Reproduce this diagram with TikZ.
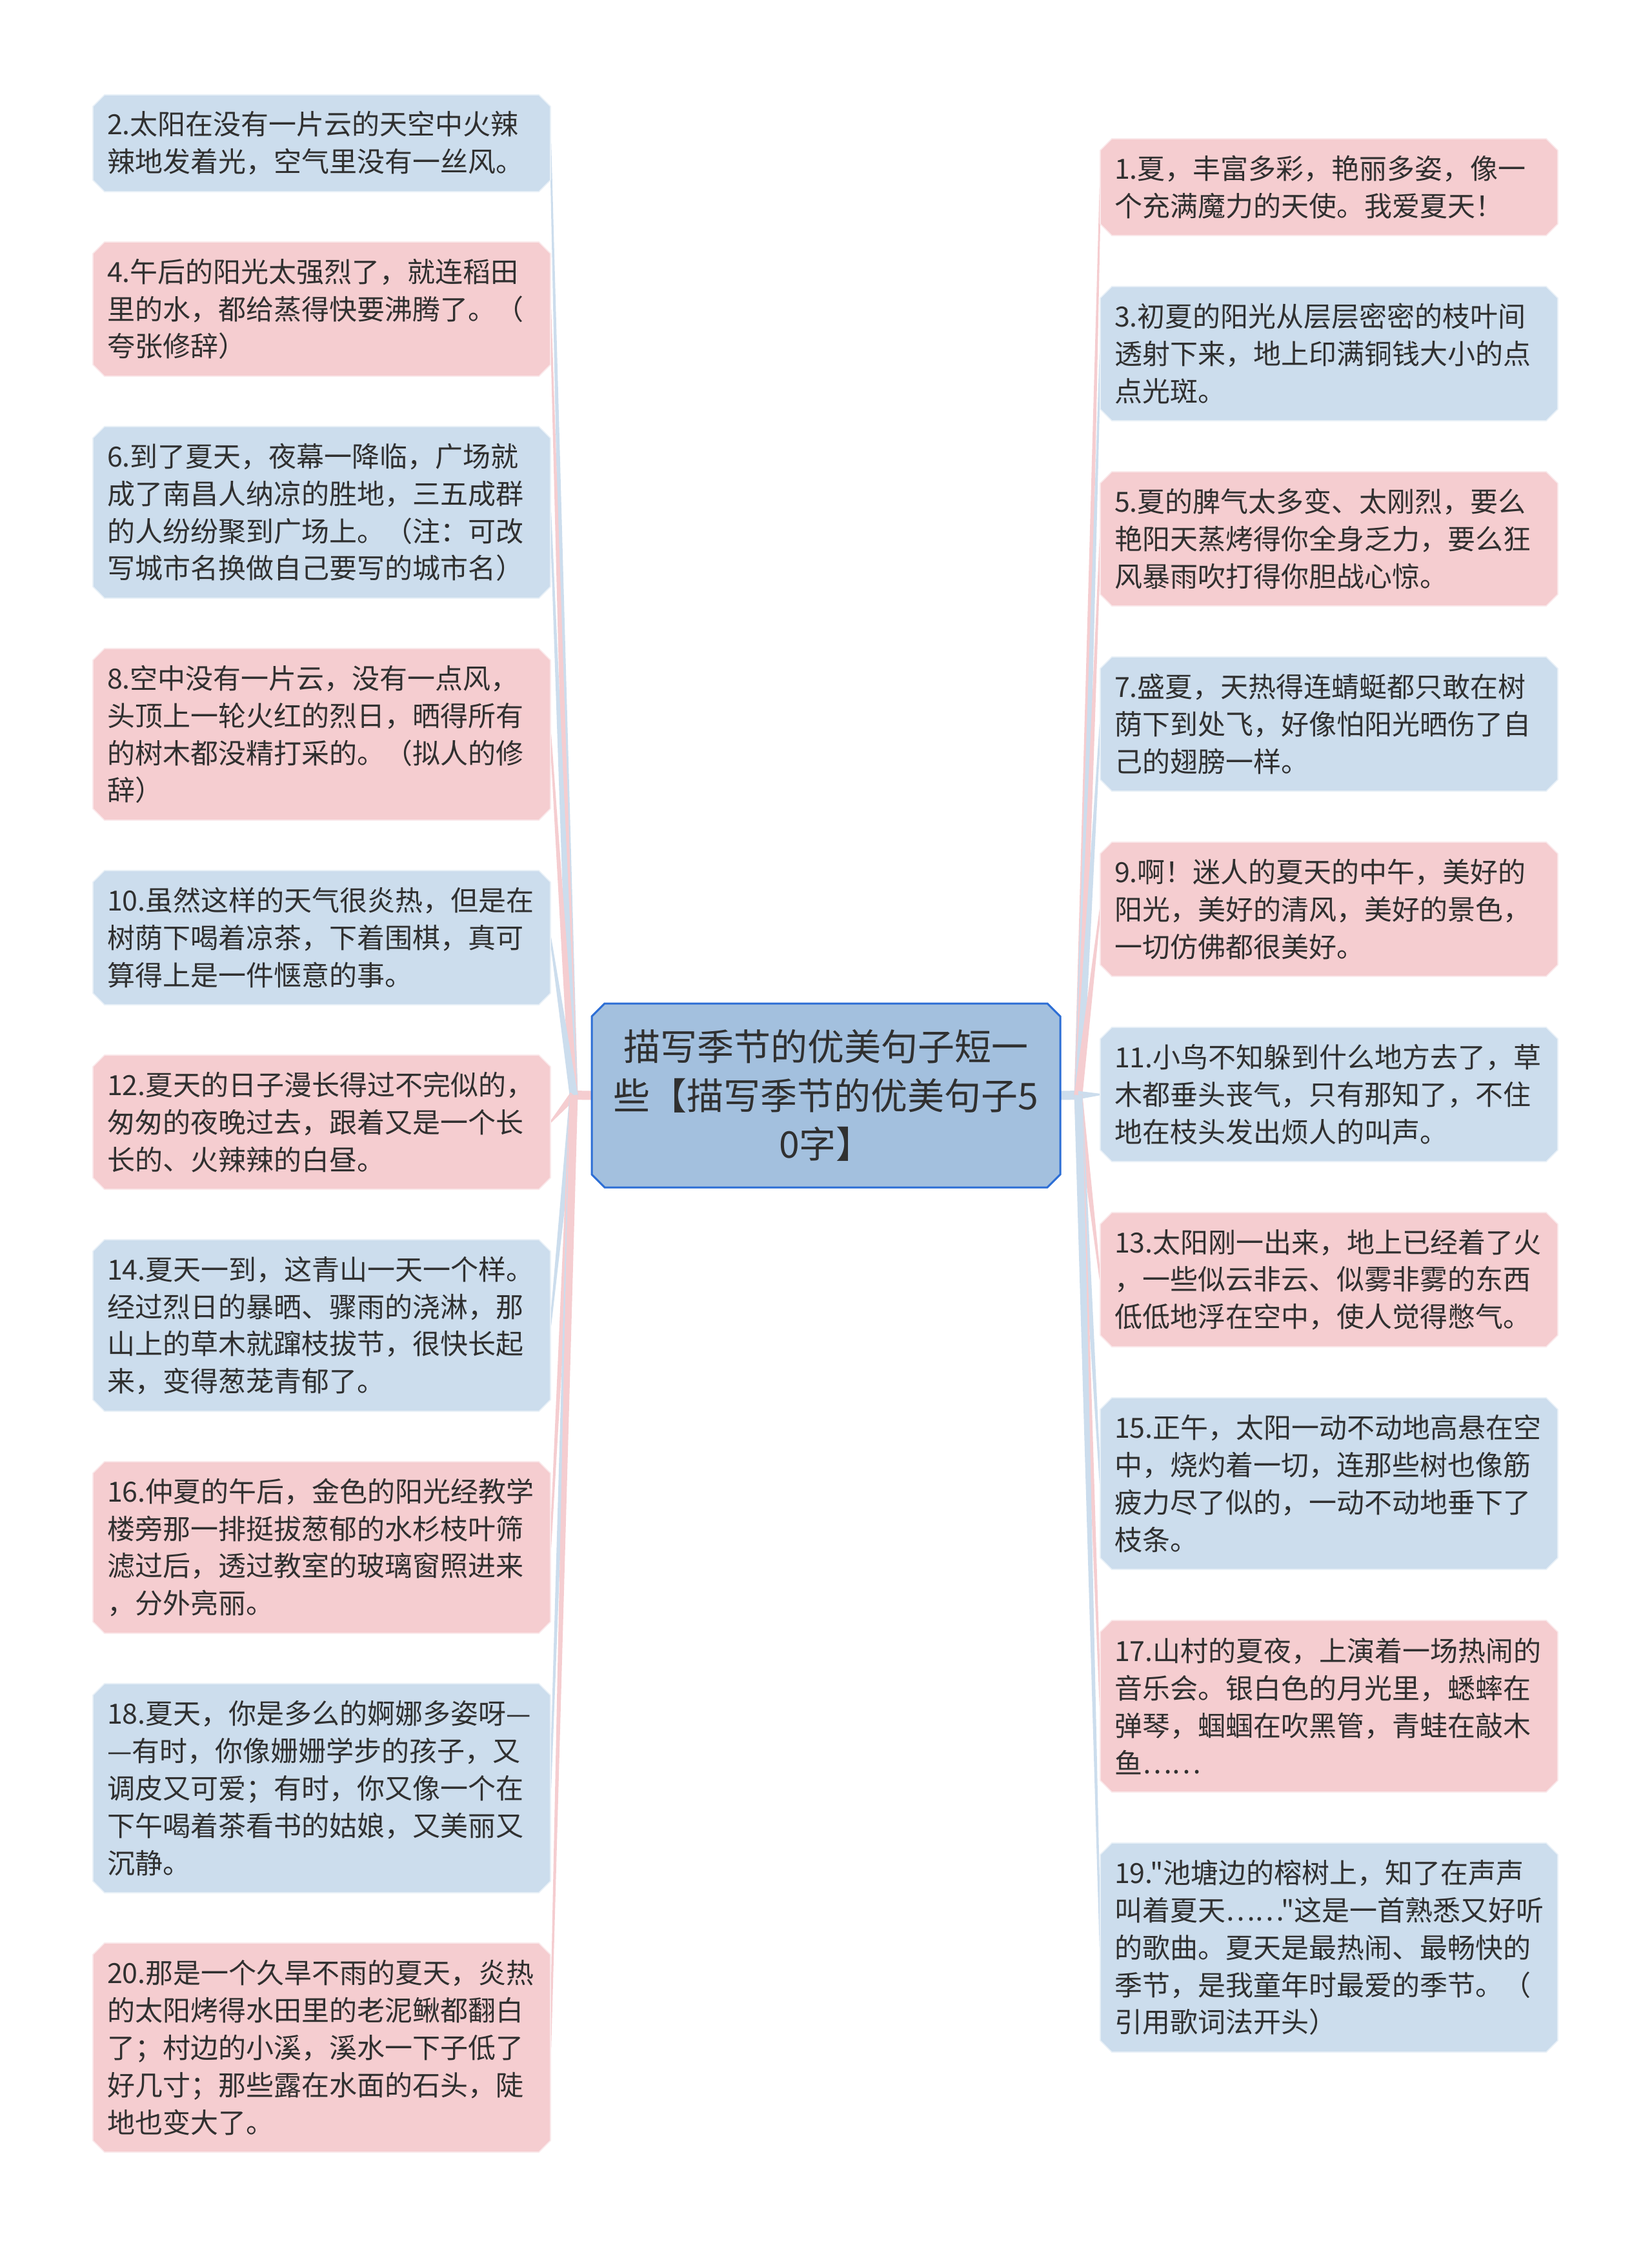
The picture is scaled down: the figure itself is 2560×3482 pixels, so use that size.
\documentclass[tikz,border=0pt]{standalone}
\usepackage{fontspec}
\newfontfamily\cjk{Noto Sans CJK SC}
\usetikzlibrary{calc}
\definecolor{leafblue}{RGB}{204,221,237}
\definecolor{leafpink}{RGB}{245,205,208}
\definecolor{hubfill}{RGB}{163,192,222}
\definecolor{hubline}{RGB}{44,110,213}
\definecolor{txt}{RGB}{48,48,48}
\pgfdeclarelayer{bg}
\pgfdeclarelayer{mid}
\pgfsetlayers{bg,mid,main}
\newcommand\chamf[3]{%
  \path[#3] ([xshift=#2]#1.north west) -- ([xshift=-#2]#1.north east) -- ([yshift=-#2]#1.north east) -- ([yshift=#2]#1.south east) -- ([xshift=-#2]#1.south east) -- ([xshift=#2]#1.south west) -- ([yshift=#2]#1.south west) -- ([yshift=-#2]#1.north west) -- cycle;}
\newcommand\conn[3]{%
  \fill[#3] ($(#1)!3.2pt!90:(#2)$) -- ($(#2)!0.6pt!-90:(#1)$) -- ($(#2)!0.6pt!90:(#1)$) -- ($(#1)!3.2pt!-90:(#2)$) -- cycle;}
\newcommand\lf[5]{%
  \node[leaf, minimum height={(#4-#3)*0.5pt}, anchor=north west] (#1) at (#2,#3) {#5};}
\begin{document}
\begin{tikzpicture}[x=0.5pt,y=-0.5pt,
  leaf/.style={rectangle, inner xsep=11pt, inner ysep=0pt, outer sep=0pt, text width=332.5pt, minimum width=354.5pt, align=left, text=txt,
    font=\cjk\fontsize{21.5pt}{28.9pt}\selectfont},
  hub/.style={rectangle, inner sep=0pt, outer sep=0pt, minimum width=363pt, minimum height=142.5pt, align=center, text=txt,
    font=\cjk\fontsize{28.5pt}{37.7pt}\selectfont},
  pinkbox/.style={fill=leafpink, draw=leafpink!45!white, line width=0.8pt},
  bluebox/.style={fill=leafblue, draw=leafblue!45!white, line width=0.8pt},
  pinkline/.style={fill=leafpink},
  blueline/.style={fill=leafblue}]
\useasboundingbox (0,0) rectangle (2560,3482);

% central node
\node[hub, anchor=north west] (C) at (917,1555) {描写季节的优美句子短一\\些【描写季节的优美句子5\\0字】};
\coordinate (hubL) at (889,1697);
\coordinate (hubR) at (1671,1697);

% left leaves
\lf{L2}{144}{147}{297}{2.太阳在没有一片云的天空中火辣\\辣地发着光，空气里没有一丝风。}
\lf{L4}{144}{375}{583}{4.午后的阳光太强烈了，就连稻田\\里的水，都给蒸得快要沸腾了。（\\夸张修辞）}
\lf{L6}{144}{661}{927}{6.到了夏天，夜幕一降临，广场就\\成了南昌人纳凉的胜地，三五成群\\的人纷纷聚到广场上。（注：可改\\写城市名换做自己要写的城市名）}
\lf{L8}{144}{1005}{1271}{8.空中没有一片云，没有一点风，\\头顶上一轮火红的烈日，晒得所有\\的树木都没精打采的。（拟人的修\\辞）}
\lf{L10}{144}{1349}{1557}{10.虽然这样的天气很炎热，但是在\\树荫下喝着凉茶，下着围棋，真可\\算得上是一件惬意的事。}
\lf{L12}{144}{1635}{1843}{12.夏天的日子漫长得过不完似的，\\匆匆的夜晚过去，跟着又是一个长\\长的、火辣辣的白昼。}
\lf{L14}{144}{1921}{2187}{14.夏天一到，这青山一天一个样。\\经过烈日的暴晒、骤雨的浇淋，那\\山上的草木就蹿枝拔节，很快长起\\来，变得葱茏青郁了。}
\lf{L16}{144}{2265}{2531}{16.仲夏的午后，金色的阳光经教学\\楼旁那一排挺拔葱郁的水杉枝叶筛\\滤过后，透过教室的玻璃窗照进来\\，分外亮丽。}
\lf{L18}{144}{2609}{2933}{18.夏天，你是多么的婀娜多姿呀—\\—有时，你像姗姗学步的孩子，又\\调皮又可爱；有时，你又像一个在\\下午喝着茶看书的姑娘，又美丽又\\沉静。}
\lf{L20}{144}{3011}{3335}{20.那是一个久旱不雨的夏天，炎热\\的太阳烤得水田里的老泥鳅都翻白\\了；村边的小溪，溪水一下子低了\\好几寸；那些露在水面的石头，陡\\地也变大了。}

% right leaves
\lf{R1}{1705}{215}{365}{1.夏，丰富多彩，艳丽多姿，像一\\个充满魔力的天使。我爱夏天！}
\lf{R3}{1705}{444}{652}{3.初夏的阳光从层层密密的枝叶间\\透射下来，地上印满铜钱大小的点\\点光斑。}
\lf{R5}{1705}{731}{939}{5.夏的脾气太多变、太刚烈，要么\\艳阳天蒸烤得你全身乏力，要么狂\\风暴雨吹打得你胆战心惊。}
\lf{R7}{1705}{1018}{1226}{7.盛夏，天热得连蜻蜓都只敢在树\\荫下到处飞，好像怕阳光晒伤了自\\己的翅膀一样。}
\lf{R9}{1705}{1305}{1513}{9.啊！迷人的夏天的中午，美好的\\阳光，美好的清风，美好的景色，\\一切仿佛都很美好。}
\lf{R11}{1705}{1592}{1800}{11.小鸟不知躲到什么地方去了，草\\木都垂头丧气，只有那知了，不住\\地在枝头发出烦人的叫声。}
\lf{R13}{1705}{1879}{2087}{13.太阳刚一出来，地上已经着了火\\，一些似云非云、似雾非雾的东西\\低低地浮在空中，使人觉得憋气。}
\lf{R15}{1705}{2166}{2432}{15.正午，太阳一动不动地高悬在空\\中，烧灼着一切，连那些树也像筋\\疲力尽了似的，一动不动地垂下了\\枝条。}
\lf{R17}{1705}{2511}{2777}{17.山村的夏夜，上演着一场热闹的\\音乐会。银白色的月光里，蟋蟀在\\弹琴，蝈蝈在吹黑管，青蛙在敲木\\鱼……}
\lf{R19}{1705}{2856}{3180}{19."池塘边的榕树上，知了在声声\\叫着夏天……"这是一首熟悉又好听\\的歌曲。夏天是最热闹、最畅快的\\季节，是我童年时最爱的季节。（\\引用歌词法开头）}

% box fills
\begin{pgfonlayer}{mid}
\chamf{C}{10pt}{fill=hubfill, draw=hubline, line width=1.5pt}
\chamf{L2}{9pt}{bluebox}
\chamf{L4}{9pt}{pinkbox}
\chamf{L6}{9pt}{bluebox}
\chamf{L8}{9pt}{pinkbox}
\chamf{L10}{9pt}{bluebox}
\chamf{L12}{9pt}{pinkbox}
\chamf{L14}{9pt}{bluebox}
\chamf{L16}{9pt}{pinkbox}
\chamf{L18}{9pt}{bluebox}
\chamf{L20}{9pt}{pinkbox}
\chamf{R1}{9pt}{pinkbox}
\chamf{R3}{9pt}{bluebox}
\chamf{R5}{9pt}{pinkbox}
\chamf{R7}{9pt}{bluebox}
\chamf{R9}{9pt}{pinkbox}
\chamf{R11}{9pt}{bluebox}
\chamf{R13}{9pt}{pinkbox}
\chamf{R15}{9pt}{bluebox}
\chamf{R17}{9pt}{pinkbox}
\chamf{R19}{9pt}{bluebox}
\end{pgfonlayer}

% connectors
\begin{pgfonlayer}{bg}
\fill[white] (0,0) rectangle (2560,3482);
\draw[leafpink, line width=7pt] (C.west) -- (hubL);
\draw[leafblue, line width=7pt] (C.east) -- (hubR);
\conn{hubL}{L2.east}{blueline}
\conn{hubL}{L4.east}{pinkline}
\conn{hubL}{L6.east}{blueline}
\conn{hubL}{L8.east}{pinkline}
\conn{hubL}{L10.east}{blueline}
\conn{hubL}{L12.east}{pinkline}
\conn{hubL}{L14.east}{blueline}
\conn{hubL}{L16.east}{pinkline}
\conn{hubL}{L18.east}{blueline}
\conn{hubL}{L20.east}{pinkline}
\conn{hubR}{R1.west}{pinkline}
\conn{hubR}{R3.west}{blueline}
\conn{hubR}{R5.west}{pinkline}
\conn{hubR}{R7.west}{blueline}
\conn{hubR}{R9.west}{pinkline}
\conn{hubR}{R11.west}{blueline}
\conn{hubR}{R13.west}{pinkline}
\conn{hubR}{R15.west}{blueline}
\conn{hubR}{R17.west}{pinkline}
\conn{hubR}{R19.west}{blueline}
\end{pgfonlayer}
\end{tikzpicture}
\end{document}
